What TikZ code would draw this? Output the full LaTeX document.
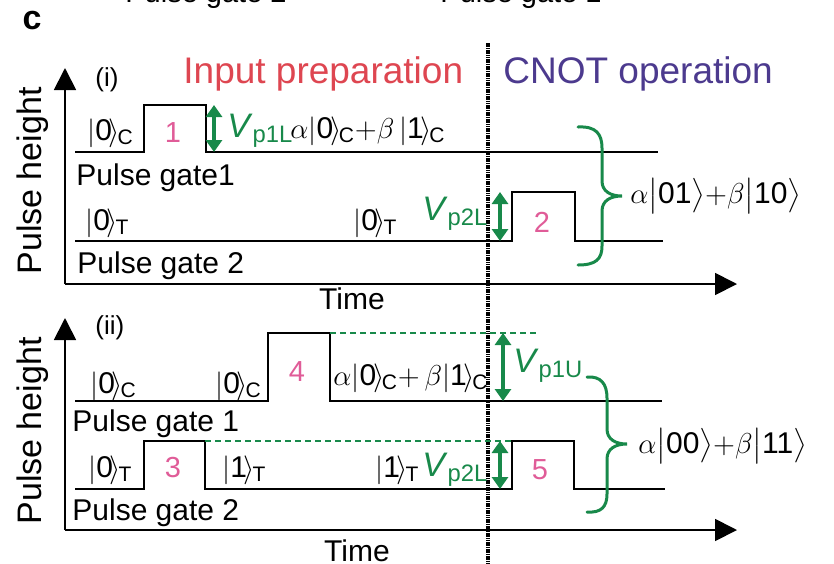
\documentclass[tikz,border=0pt]{standalone}
\usepackage{amsmath}
\usepackage{fontspec}
\setmainfont{Liberation Sans}
\setsansfont{Liberation Sans}
\usepackage{tikz}
\usetikzlibrary{arrows.meta}
\definecolor{prepred}{HTML}{DE4651}
\definecolor{cnotpurple}{HTML}{4C3A8E}
\definecolor{pulsepink}{HTML}{E05C98}
\definecolor{vgreen}{HTML}{18894A}
\newcommand{\kt}[2]{$|\text{#1}\mkern-2mu\rangle_{\mkern-2mu\text{#2}}$}
\tikzset{
  font=\sffamily,
  txt/.style={inner sep=0pt, anchor=base west, font=\fontsize{15}{17}\selectfont},
  gatelabel/.style={txt, font=\fontsize{15}{17}\selectfont},
  axislabel/.style={inner sep=0pt, font=\fontsize{17}{19}\selectfont},
  stagetitle/.style={txt, font=\fontsize{18.5}{20}\selectfont},
  pulsenum/.style={inner sep=0pt, text=pulsepink, font=\fontsize{14.5}{16}\selectfont},
  vlabel/.style={txt, text=vgreen, font=\fontsize{17}{19}\selectfont},
  wave/.style={draw=black, line width=1pt},
  axis/.style={-{Triangle[length=11pt,width=11pt]}, draw=black, line width=0.9pt},
  vheight/.style={{Triangle[length=6pt,width=8pt]}-{Triangle[length=6pt,width=8pt]}, draw=vgreen, line width=1.6pt},
  level/.style={draw=vgreen, densely dashed, line width=0.8pt},
  stagebar/.style={draw=black, dash pattern=on 0.8pt off 0.35pt, line width=1.6pt},
  stateset/.style={draw=vgreen, line width=1.5pt, line cap=round}
}
\begin{document}
\begin{tikzpicture}[x=0.5pt,y=-0.5pt]
  \useasboundingbox (0,0) rectangle (834,563);
  \clip (0,0) rectangle (834,563);

  \node[gatelabel, font=\fontsize{14.5}{16}\selectfont] (headtwo) at (125,2) {Pulse gate 2};
  \node[gatelabel, font=\fontsize{14.5}{16}\selectfont] (headone) at (440,2) {Pulse gate 1};
  \node[inner sep=0pt, font=\fontsize{17}{19}\selectfont\bfseries] (panel) at (32,21) {c};

  \node[stagetitle, text=prepred] (prep) at (183,83) {Input preparation};
  \node[stagetitle, text=cnotpurple] (cnot) at (503,83) {CNOT operation};
  \coordinate (bartop) at (488,43);
  \coordinate (barbot) at (488,563);
  \draw[stagebar] (bartop) -- (barbot);

  % panel (i)
  \coordinate (oi) at (65,284);
  \coordinate (yi) at (65,68);
  \coordinate (xi) at (737,284);
  \draw[axis] (oi) -- (yi);
  \draw[axis] (oi) -- (xi);
  \node[axislabel, rotate=90] (hi) at (33,181) {Pulse height};
  \node[gatelabel, anchor=base] (ti) at (352,309) {Time};
  \node[txt, font=\fontsize{13}{15}\selectfont] (ri) at (95,86) {(i)};

  \draw[wave] (75,152) -- (144,152) -- (144,105) -- (206,105) -- (206,152) -- (658,152);
  \draw[wave] (75,241) -- (512,241) -- (512,192) -- (575,192) -- (575,241) -- (663,241);

  \node[txt] (ci) at (87,140) {\kt{0}{C}};
  \node[pulsenum] (one) at (173,133) {1};
  \coordinate (vp1Ltop) at (214,105);
  \coordinate (vp1Lbot) at (214,152);
  \draw[vheight] (vp1Ltop) -- (vp1Lbot);
  \node[vlabel] (vp1L) at (227,137) {\textit{V}\textsubscript{p1L}};
  \node[txt] (supi) at (290,138) {$\alpha$\kt{0}{C}$+\beta\,$\kt{1}{C}};
  \node[gatelabel] (gonei) at (76,185) {Pulse gate1};
  \node[txt] (tai) at (85,230) {\kt{0}{T}};
  \node[txt] (tbi) at (353,230) {\kt{0}{T}};
  \node[vlabel] (vp2Li) at (422,220) {\textit{V}\textsubscript{p2L}};
  \coordinate (vp2Litop) at (500,192);
  \coordinate (vp2Libot) at (500,241);
  \draw[vheight] (vp2Litop) -- (vp2Libot);
  \node[pulsenum] (two) at (542,222) {2};
  \node[gatelabel] (gtwoi) at (77,273) {Pulse gate 2};

  \coordinate (bracetopi) at (578,127);
  \coordinate (bracetipi) at (622,196);
  \coordinate (braceboti) at (578,265);
  \draw[stateset] (bracetopi) .. controls (596,126) and (602,134) .. (602,148)
    -- (602,181) .. controls (602,191) and (610,196) .. (bracetipi)
    .. controls (610,196) and (602,201) .. (602,211)
    -- (602,246) .. controls (602,259) and (596,265) .. (braceboti);
  \node[txt, anchor=west] (outi) at (630,196) {$\alpha\bigl|\text{01}\bigr\rangle{+}\beta\bigl|\text{10}\bigr\rangle$};

  % panel (ii)
  \coordinate (oii) at (65,530);
  \coordinate (yii) at (65,318);
  \coordinate (xii) at (737,530);
  \draw[axis] (oii) -- (yii);
  \draw[axis] (oii) -- (xii);
  \node[axislabel, rotate=90] (hii) at (33,431) {Pulse height};
  \node[gatelabel, anchor=base] (tii) at (357,561) {Time};
  \node[txt, font=\fontsize{13}{15}\selectfont] (rii) at (95,334) {(ii)};

  \draw[wave] (75,401) -- (268,401) -- (268,333) -- (330,333) -- (330,401) -- (662,401);
  \draw[wave] (75,489) -- (144,489) -- (144,441) -- (205,441) -- (205,489) -- (512,489) -- (512,441) -- (574,441) -- (574,489) -- (665,489);
  \draw[level] (330,333) -- (537,333);
  \draw[level] (205,441) -- (512,441);

  \node[txt] (caii) at (90,393) {\kt{0}{C}};
  \node[txt] (cbii) at (215,393) {\kt{0}{C}};
  \node[pulsenum] (four) at (297,372) {4};
  \node[txt] (supii) at (333,385) {$\alpha$\kt{0}{C}${+}\,\beta$\kt{1}{C}};
  \coordinate (vp1Utop) at (503,333);
  \coordinate (vp1Ubot) at (503,401);
  \draw[vheight] (vp1Utop) -- (vp1Ubot);
  \node[vlabel] (vp1U) at (513,372) {\textit{V}\textsubscript{p1U}};
  \node[gatelabel] (goneii) at (72,431) {Pulse gate 1};

  \node[txt] (taii) at (88,477) {\kt{0}{T}};
  \node[pulsenum] (three) at (173,468) {3};
  \node[txt] (tbii) at (222,477) {\kt{1}{T}};
  \node[txt] (tcii) at (375,477) {\kt{1}{T}};
  \node[vlabel] (vp2Lii) at (422,476) {\textit{V}\textsubscript{p2L}};
  \coordinate (vp2Liitop) at (500,441);
  \coordinate (vp2Liibot) at (500,489);
  \draw[vheight] (vp2Liitop) -- (vp2Liibot);
  \node[pulsenum] (five) at (540,470) {5};
  \node[gatelabel] (gtwoii) at (72,520) {Pulse gate 2};

  \coordinate (bracetopii) at (587,377);
  \coordinate (bracetipii) at (627,444);
  \coordinate (bracebotii) at (587,512);
  \draw[stateset] (bracetopii) .. controls (601,376) and (607,384) .. (607,398)
    -- (607,429) .. controls (607,439) and (615,444) .. (bracetipii)
    .. controls (615,444) and (607,449) .. (607,459)
    -- (607,494) .. controls (607,507) and (601,513) .. (bracebotii);
  \node[txt, anchor=west] (outii) at (638,446) {$\alpha\bigl|\text{00}\bigr\rangle{+}\beta\bigl|\text{11}\bigr\rangle$};
\end{tikzpicture}
\end{document}
